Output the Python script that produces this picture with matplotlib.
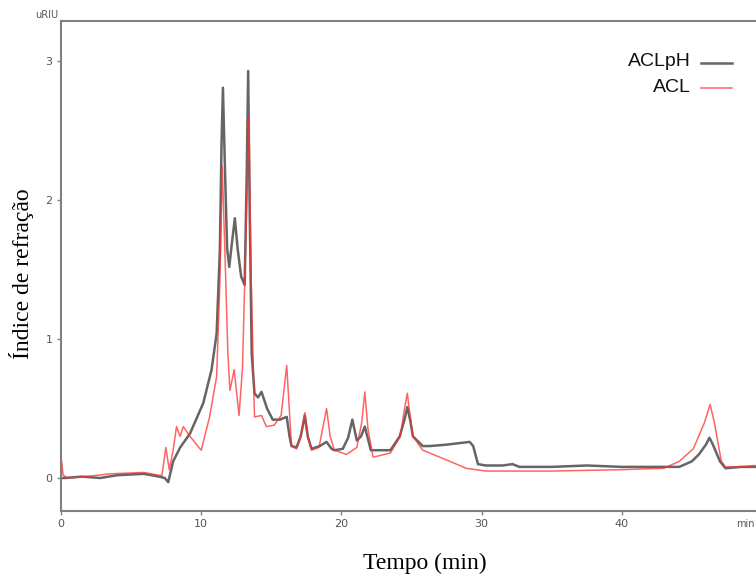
import matplotlib
matplotlib.use("Agg")
import matplotlib.pyplot as plt
from matplotlib.lines import Line2D

# ---- data ----
t_aclph = [0, 0.3, 1.5, 2.8, 4, 5.9, 7.0, 7.4, 7.65, 8.0, 8.5, 9.2, 10.15, 10.74, 11.1, 11.33,
           11.45, 11.55, 11.7, 11.85, 12.0, 12.2, 12.4, 12.6, 12.85, 13.1, 13.25, 13.35, 13.45,
           13.6, 13.8, 14.05, 14.3, 14.7, 15.1, 15.6, 16.1, 16.3, 16.44, 16.8, 17.1, 17.39, 17.6,
           17.87, 18.46, 18.94, 19.3, 19.5, 20.1, 20.48, 20.78, 21.1, 21.4, 21.67, 22.1, 23.5,
           24.16, 24.5, 24.7, 24.9, 25.1, 25.8, 26.3, 27.5, 29.15, 29.4, 29.74, 30.3, 31.5, 32.2,
           32.7, 35, 37.5, 40, 44.1, 45.0, 45.5, 46.0, 46.25, 46.5, 47.0, 47.4, 48.5, 49.5]
v_aclph = [0.0, 0.0, 0.01, 0.0, 0.02, 0.03, 0.01, 0.0, -0.03, 0.12, 0.22, 0.32, 0.54, 0.78, 1.04,
           1.64, 2.4, 2.81, 2.2, 1.65, 1.52, 1.7, 1.87, 1.65, 1.45, 1.39, 2.2, 2.93, 2.0, 0.9,
           0.61, 0.58, 0.62, 0.5, 0.42, 0.42, 0.44, 0.30, 0.23, 0.22, 0.3, 0.45, 0.3, 0.21, 0.23,
           0.26, 0.21, 0.20, 0.21, 0.29, 0.42, 0.27, 0.3, 0.37, 0.20, 0.20, 0.30, 0.42, 0.51,
           0.42, 0.30, 0.23, 0.23, 0.24, 0.26, 0.23, 0.10, 0.09, 0.09, 0.10, 0.08, 0.08, 0.09,
           0.08, 0.08, 0.12, 0.17, 0.24, 0.29, 0.24, 0.12, 0.07, 0.08, 0.08]

t_acl = [0, 0.05, 0.15, 0.5, 1.7, 3.5, 5.9, 7.0, 7.2, 7.48, 7.72, 8.0, 8.24, 8.5, 8.72, 9.2, 10.0,
         10.6, 11.1, 11.33, 11.5, 11.7, 11.9, 12.05, 12.35, 12.7, 12.95, 13.2, 13.4, 13.55, 13.8,
         14.3, 14.65, 15.2, 15.7, 16.1, 16.44, 16.8, 17.1, 17.39, 17.6, 17.87, 18.4, 18.94, 19.2,
         19.5, 20.36, 21.1, 21.45, 21.67, 21.9, 22.26, 23.5, 24.2, 24.5, 24.7, 24.9, 25.1, 25.8,
         27.5, 28.9, 30.3, 35, 40, 43, 44.1, 45.1, 45.9, 46.3, 46.6, 47.1, 47.4, 48.5, 49.5]
v_acl = [0.12, 0.12, 0.02, 0.0, 0.01, 0.03, 0.04, 0.02, 0.02, 0.22, 0.06, 0.2, 0.37, 0.30, 0.37,
         0.30, 0.20, 0.44, 0.73, 1.4, 2.24, 1.6, 0.9, 0.63, 0.78, 0.45, 0.8, 1.8, 2.6, 1.5, 0.44,
         0.45, 0.37, 0.38, 0.45, 0.81, 0.23, 0.21, 0.3, 0.47, 0.3, 0.2, 0.22, 0.50, 0.3, 0.20,
         0.17, 0.22, 0.4, 0.62, 0.35, 0.15, 0.18, 0.3, 0.5, 0.61, 0.45, 0.30, 0.20, 0.13, 0.07,
         0.05, 0.05, 0.06, 0.07, 0.12, 0.21, 0.40, 0.53, 0.40, 0.12, 0.08, 0.08, 0.09]

labels = ["ACLpH", "ACL"]
xticks = [0, 10, 20, 30, 40]
yticks = [0, 1, 2, 3]

# ---- styles ----
gray_style = dict(color="#4a4a4a", lw=1.8, alpha=0.85, solid_joinstyle="round")
red_style = dict(color="#ff3030", lw=1.1, alpha=0.75, solid_joinstyle="round")

# ---- figure ----
W, H = 756, 577
fig = plt.figure(figsize=(W / 100, H / 100), dpi=100)
ax = fig.add_axes([61 / W, 1 - 511 / H, 1 - 61 / W, (511 - 21) / H])

ax.plot(t_aclph, v_aclph, label=labels[0], **gray_style)
ax.plot(t_acl, v_acl, label=labels[1], **red_style)

ax.set_xlim(0, (W - 61) / 14.02)
ax.set_ylim(-33 / 138.9, (478 - 21) / 138.9)

ax.set_xticks(xticks)
ax.set_yticks(yticks)
ax.tick_params(direction="out", length=3, width=1, colors="#808080", labelcolor="#555555",
               labelsize=8, pad=3)

for s in ["left", "top", "bottom"]:
    ax.spines[s].set_color("#808080")
    ax.spines[s].set_linewidth(1.5)
ax.spines["right"].set_visible(False)

fig.text(58 / W, 1 - 15 / H, "uRIU", ha="right", va="center", fontsize=7, color="#555555")
fig.text(755 / W, 1 - 524 / H, "min", ha="right", va="center", fontsize=7, color="#555555")

fig.text(425 / W, 1 - 563 / H, "Tempo (min)", ha="center", va="center",
         fontsize=17, family="Liberation Serif")
fig.text(22 / W, 1 - 274 / H, "Índice de refração", ha="center", va="center", rotation=90,
         fontsize=17, family="Liberation Serif")

# ---- legend (text right-aligned, line sample after the text) ----
legend_rows = [(labels[0], gray_style, 62), (labels[1], red_style, 87)]
for lab, st, ypx in legend_rows:
    fig.text(691 / W, 1 - ypx / H, lab, ha="right", va="center", fontsize=14,
             family="Liberation Sans", color="#111111")
    fig.add_artist(Line2D([701 / W, 732 / W], [1 - (ypx + 1) / H, 1 - (ypx + 1) / H],
                          transform=fig.transFigure, **st))

fig.savefig("out.png", dpi=100)
